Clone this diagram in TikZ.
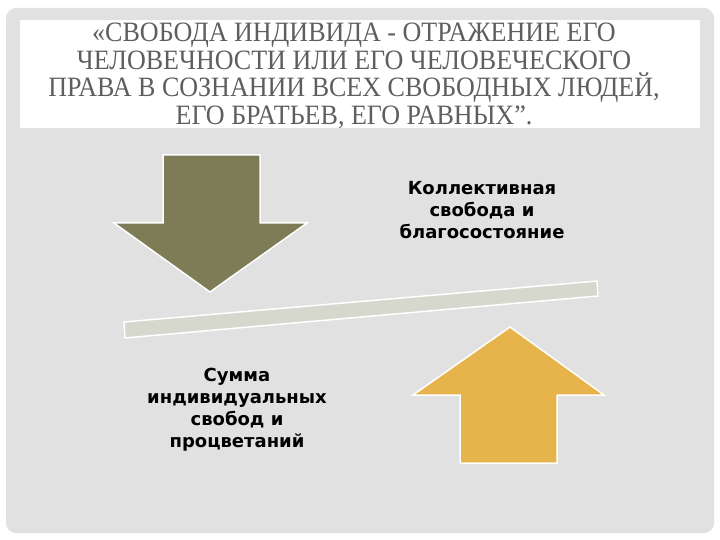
\documentclass[tikz,border=0pt]{standalone}
\usepackage{fontspec}
\setmainfont{Liberation Serif}
\newfontfamily\titlefont[FakeStretch=0.93]{Liberation Serif}
\newfontfamily\bodyfont{DejaVu Sans}
\usetikzlibrary{positioning}

\definecolor{panelgray}{HTML}{E1E1E1}
\definecolor{titlegray}{HTML}{5E5E5E}
\definecolor{olive}{HTML}{7E7C56}
\definecolor{gold}{HTML}{E7B44C}
\definecolor{barfill}{HTML}{D7D8CD}

\tikzset{
  shapeline/.style={draw=white, line width=1.5pt, line join=miter},
  label/.style={align=center, font=\bodyfont\bfseries\fontsize{18}{22}\selectfont}
}

\begin{document}
\begin{tikzpicture}[x=1pt, y=-1pt]
  \useasboundingbox (0,0) rectangle (720,540);
  \fill[white] (0,0) rectangle (720,540);
  \fill[panelgray, rounded corners=10pt] (6,8) rectangle (714,533);
  \fill[white] (20,20) rectangle (700,128);
  \node[align=center, text=titlegray, font=\titlefont\fontsize{28}{27.5}\selectfont] (title) at (354,76)
    {«СВОБОДА ИНДИВИДА - ОТРАЖЕНИЕ ЕГО\\ЧЕЛОВЕЧНОСТИ ИЛИ ЕГО ЧЕЛОВЕЧЕСКОГО\\ПРАВА В СОЗНАНИИ ВСЕХ СВОБОДНЫХ ЛЮДЕЙ,\\ЕГО БРАТЬЕВ, ЕГО РАВНЫХ”.};
  % down arrow
  \draw[shapeline, fill=olive] (163,155) -- (260,155) -- (260,223) -- (307,223) -- (210,292)
    -- (114,223) -- (163,223) -- cycle;
  % the beam
  \draw[shapeline, fill=barfill] (124,322) -- (597,281) -- (598,296) -- (125,338) -- cycle;
  % up arrow
  \draw[shapeline, fill=gold] (510,327) -- (604,395) -- (557,395) -- (557,463) -- (460,463)
    -- (460,395) -- (413,395) -- cycle;
  \node[label] (collective) at (482,210) {Коллективная\\свобода и\\благосостояние};
  \node[label] (sum) at (237,410) {Сумма\\индивидуальных\\свобод и\\процветаний};
\end{tikzpicture}
\end{document}
